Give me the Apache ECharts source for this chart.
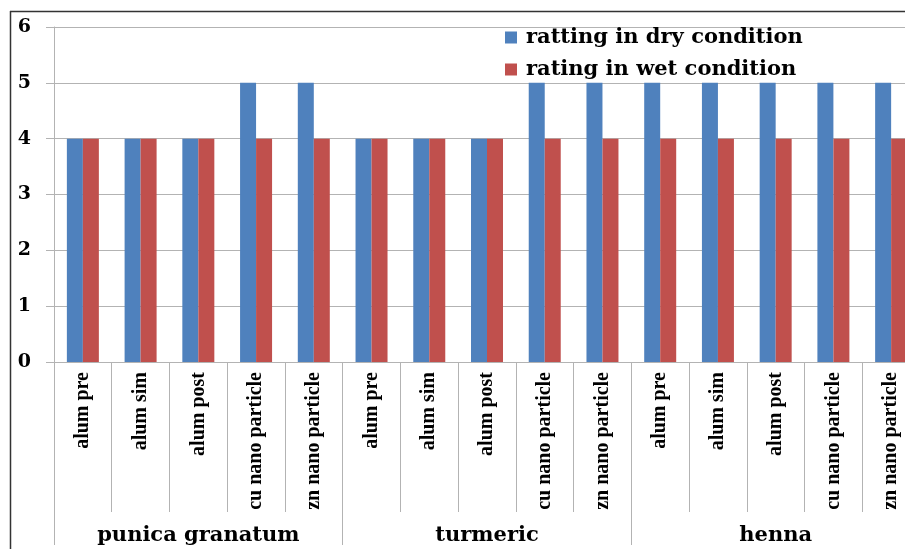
<!DOCTYPE html>
<html>
<head>
<meta charset="utf-8">
<script src="https://cdn.jsdelivr.net/npm/echarts@6/dist/echarts.min.js"></script>
<style>
  html, body { margin: 0; padding: 0; background: #fff; overflow: hidden; }
  /* the plot runs slightly past the right edge of the 905px view */
  #chart { width: 922px; height: 549px; }
</style>
</head>
<body>
<div id="chart"></div>
<script>
// Treatments within each dye, and the dye groups they belong to
const treatments = ['alum pre', 'alum sim', 'alum post', 'cu nano particle', 'zn nano particle'];
const dyes = ['punica granatum', 'turmeric', 'henna'];
const categories = dyes.flatMap(() => treatments);

// Fastness ratings
const dryRating = [4, 4, 4, 5, 5, 4, 4, 4, 5, 5, 5, 5, 5, 5, 5];
const wetRating = [4, 4, 4, 4, 4, 4, 4, 4, 4, 4, 4, 4, 4, 4, 4];
const seriesNames = ['ratting in dry condition', 'rating in wet condition'];

const yTicks = [0, 1, 2, 3, 4, 5, 6];

const gridColor = '#b3b3b3';
const serif = 'Liberation Serif';
const boldSerif = 'DejaVu Serif';

const chart = echarts.init(document.getElementById('chart'));
chart.setOption({
  animation: false,
  backgroundColor: '#ffffff',
  grid: { left: 54, right: 2, top: 27, bottom: 187 },
  legend: {
    orient: 'vertical',
    left: 500,
    top: 22,
    itemWidth: 12,
    itemHeight: 12,
    itemGap: 11,
    icon: 'rect',
    textStyle: { fontFamily: boldSerif, fontWeight: 'bold', fontSize: 21, color: '#000', padding: [0, 0, 0, 4] },
    data: seriesNames
  },
  xAxis: [
    {
      type: 'category',
      data: categories,
      position: 'bottom',
      axisLine: { show: true, lineStyle: { color: gridColor, width: 1 } },
      axisTick: { show: true, interval: 0, length: 150, lineStyle: { color: gridColor } },
      axisLabel: {
        interval: 0,
        rotate: 90,
        margin: 10,
        fontFamily: serif,
        fontWeight: 'bold',
        fontSize: 20,
        color: '#000'
      },
      splitLine: { show: false }
    },
    {
      type: 'category',
      data: dyes,
      position: 'bottom',
      axisLine: { show: false },
      axisTick: { show: true, interval: 0, length: 183, lineStyle: { color: gridColor } },
      axisLabel: {
        interval: 0,
        margin: 163,
        fontFamily: boldSerif,
        fontWeight: 'bold',
        fontSize: 21,
        color: '#000'
      },
      splitLine: { show: false }
    }
  ],
  yAxis: {
    type: 'value',
    min: yTicks[0],
    max: yTicks[yTicks.length - 1],
    interval: 1,
    axisLine: { show: true, lineStyle: { color: gridColor } },
    axisTick: { show: true, length: 8, lineStyle: { color: gridColor } },
    axisLabel: {
      margin: 23,
      fontFamily: boldSerif,
      fontWeight: 'bold',
      fontSize: 19,
      color: '#000'
    },
    splitLine: { show: true, lineStyle: { color: gridColor, width: 1 } }
  },
  series: [
    {
      name: seriesNames[0],
      type: 'bar',
      xAxisIndex: 0,
      data: dryRating,
      barWidth: 16,
      barGap: '0%',
      itemStyle: { color: '#4F81BD' }
    },
    {
      name: seriesNames[1],
      type: 'bar',
      xAxisIndex: 0,
      data: wetRating,
      barWidth: 16,
      barGap: '0%',
      itemStyle: { color: '#C0504D' }
    }
  ],
  graphic: [
    { type: 'line', shape: { x1: 10.5, y1: 11, x2: 10.5, y2: 549 }, style: { stroke: '#333', lineWidth: 1.5 } },
    { type: 'line', shape: { x1: 10, y1: 11.5, x2: 922, y2: 11.5 }, style: { stroke: '#333', lineWidth: 1.5 } }
  ]
});
</script>
</body>
</html>
